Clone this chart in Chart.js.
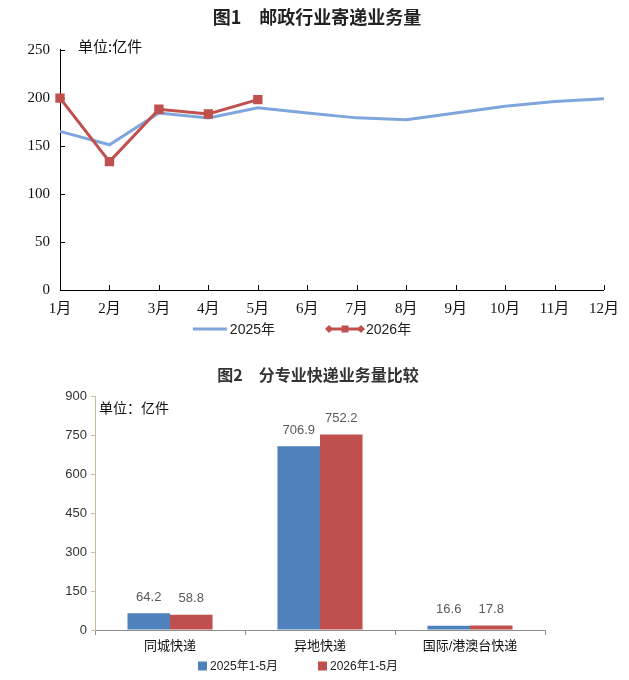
<!DOCTYPE html>
<html>
<head>
<meta charset="utf-8">
<script src="https://cdn.jsdelivr.net/npm/chart.js"></script>
<style>
  body { margin: 0; background: #fff; width: 629px; height: 680px; overflow: hidden; position: relative; }
  .box { position: absolute; left: 0; width: 629px; }
  #box1 { top: 0; height: 345px; }
  #box2 { top: 355px; height: 325px; }
</style>
</head>
<body>
<div class="box" id="box1"><canvas id="lineChart"></canvas></div>
<div class="box" id="box2"><canvas id="barChart"></canvas></div>
<script>
// 图1 data
const months = ['1月', '2月', '3月', '4月', '5月', '6月', '7月', '8月', '9月', '10月', '11月', '12月'];
const volume2025 = [165, 151, 184, 179, 189.5, 184, 179, 177, 184, 191, 196, 199];
const volume2026 = [199.5, 133.5, 188, 183, 198];
const lineTicks = [0, 50, 100, 150, 200, 250];

// 图2 data
const categories = ['同城快递', '异地快递', '国际/港澳台快递'];
const period2025 = [64.2, 706.9, 16.6];
const period2026 = [58.8, 752.2, 17.8];
const barTicks = [0, 150, 300, 450, 600, 750, 900];

const CJK = "'Noto Sans CJK SC'";
const SERIF = "'Liberation Serif', " + CJK;
const SANS = "'Liberation Sans', " + CJK;
const BLUE_LINE = '#7ea6dc';
const RED_LINE = '#c0504d';
const BLUE_BAR = '#4f81bd';
const RED_BAR = '#c0504d';

Chart.defaults.font.family = SANS;
Chart.defaults.color = '#222';

// the title block normally centres over the padded layout width; centre it where the picture has it
const titleCentre = {
  id: 'titleCentre',
  beforeDraw(chart, args, opts) {
    const t = chart.titleBlock;
    if (t) { t.left = 0; t.right = opts.cx * 2; }
  }
};

// small ticks pointing into the plot (top chart)
const innerTicks = {
  id: 'innerTicks',
  beforeDatasetsDraw(chart) {
    const { ctx, scales: { x, y }, chartArea: a } = chart;
    ctx.save();
    ctx.strokeStyle = '#000';
    ctx.lineWidth = 1;
    ctx.beginPath();
    x.ticks.forEach((t, i) => {
      const px = Math.round(x.getPixelForTick(i)) + 0.5;
      ctx.moveTo(px, a.bottom);
      ctx.lineTo(px, a.bottom - 5);
    });
    y.ticks.forEach((t, i) => {
      const py = Math.round(y.getPixelForTick(i)) + 0.5;
      ctx.moveTo(a.left, py);
      ctx.lineTo(a.left + 5, py);
    });
    ctx.stroke();
    ctx.restore();
  }
};

// hand-placed legend row
function drawLegend(ctx, items, cx, cy, gap, font) {
  ctx.save();
  ctx.font = font;
  ctx.textBaseline = 'middle';
  ctx.textAlign = 'left';
  let total = 0;
  items.forEach((it, i) => {
    it.tw = ctx.measureText(it.text).width;
    total += it.symW + it.pad + it.tw + (i ? gap : 0);
  });
  let x = cx - total / 2;
  items.forEach((it, i) => {
    if (i) x += gap;
    it.symbol(ctx, x, cy);
    x += it.symW + it.pad;
    ctx.fillStyle = '#222';
    ctx.fillText(it.text, x, cy + 1);
    x += it.tw;
  });
  ctx.restore();
}

const lineExtras = {
  id: 'lineExtras',
  afterDraw(chart) {
    const ctx = chart.ctx;
    const ds = chart.data.datasets;
    ctx.save();
    ctx.font = '15px ' + CJK;
    ctx.fillStyle = '#111';
    ctx.textBaseline = 'middle';
    ctx.fillText('单位:亿件', 78, 46);
    ctx.restore();
    drawLegend(ctx, [
      {
        text: ds[0].label, symW: 34, pad: 3,
        symbol(c, x, y) {
          c.strokeStyle = ds[0].borderColor; c.lineWidth = 3;
          c.beginPath(); c.moveTo(x, y); c.lineTo(x + 34, y); c.stroke();
        }
      },
      {
        text: ds[1].label, symW: 40, pad: 1,
        symbol(c, x, y) {
          c.strokeStyle = ds[1].borderColor; c.fillStyle = ds[1].borderColor; c.lineWidth = 3;
          c.beginPath(); c.moveTo(x + 3, y); c.lineTo(x + 37, y); c.stroke();
          [x + 4, x + 36].forEach(px => {
            c.beginPath();
            c.moveTo(px - 4, y); c.lineTo(px, y - 4); c.lineTo(px + 4, y); c.lineTo(px, y + 4);
            c.closePath(); c.fill();
          });
          c.fillRect(x + 16.5, y - 3.5, 7, 7);
        }
      }
    ], 302, 329, 50, '14px ' + SANS);
  }
};

new Chart(document.getElementById('lineChart'), {
  type: 'line',
  data: {
    labels: months,
    datasets: [
      {
        label: '2025年',
        data: volume2025,
        borderColor: BLUE_LINE,
        backgroundColor: BLUE_LINE,
        borderWidth: 3,
        pointRadius: 0,
        tension: 0,
        order: 2
      },
      {
        label: '2026年',
        data: volume2026,
        borderColor: RED_LINE,
        backgroundColor: RED_LINE,
        borderWidth: 3,
        pointStyle: 'rect',
        pointRadius: 4.5,
        tension: 0,
        order: 1
      }
    ]
  },
  options: {
    responsive: true,
    maintainAspectRatio: false,
    animation: false,
    layout: { padding: { left: 0, right: 22, top: 0, bottom: 10 } },
    plugins: {
      legend: { display: false },
      tooltip: { enabled: false },
      titleCentre: { cx: 317 },
      title: {
        display: true,
        text: '图1　邮政行业寄递业务量',
        color: '#222',
        font: { size: 18, weight: 'bold', family: CJK },
        padding: { top: 6, bottom: 22 }
      }
    },
    scales: {
      x: {
        offset: false,
        grid: { display: false, drawTicks: false },
        border: { color: '#000', width: 1 },
        ticks: { autoSkip: false, maxRotation: 0, padding: 10, color: '#111', font: { size: 15, family: SERIF } },
        afterFit(s) { s.height = 45; }
      },
      y: {
        min: 0,
        max: 250,
        afterBuildTicks(s) { s.ticks = lineTicks.map(v => ({ value: v })); },
        grid: { display: false, drawTicks: false },
        border: { color: '#000', width: 1 },
        ticks: { padding: 10, color: '#111', font: { size: 15, family: SERIF } },
        afterFit(s) { s.width = 60; }
      }
    }
  },
  plugins: [titleCentre, innerTicks, lineExtras]
});

const barExtras = {
  id: 'barExtras',
  afterDatasetsDraw(chart) {
    const ctx = chart.ctx;
    ctx.save();
    ctx.font = '13px ' + SANS;
    ctx.fillStyle = '#595959';
    ctx.textAlign = 'center';
    ctx.textBaseline = 'middle';
    chart.data.datasets.forEach((ds, di) => {
      chart.getDatasetMeta(di).data.forEach((bar, i) => {
        ctx.fillText(ds.data[i].toFixed(1), bar.x, bar.y - 16);
      });
    });
    ctx.restore();
  },
  afterDraw(chart) {
    const ctx = chart.ctx;
    const ds = chart.data.datasets;
    ctx.save();
    ctx.font = '14px ' + CJK;
    ctx.fillStyle = '#111';
    ctx.textBaseline = 'middle';
    ctx.fillText('单位：亿件', 99, 53);
    ctx.restore();
    const square = color => (c, x, y) => { c.fillStyle = color; c.fillRect(x, y - 4.5, 9, 9); };
    drawLegend(ctx, [
      { text: ds[0].label, symW: 9, pad: 3, symbol: square(ds[0].backgroundColor) },
      { text: ds[1].label, symW: 9, pad: 3, symbol: square(ds[1].backgroundColor) }
    ], 298, 311, 40, '12px ' + SANS);
  }
};

new Chart(document.getElementById('barChart'), {
  type: 'bar',
  data: {
    labels: categories,
    datasets: [
      { label: '2025年1-5月', data: period2025, backgroundColor: BLUE_BAR, categoryPercentage: 0.567, barPercentage: 1 },
      { label: '2026年1-5月', data: period2026, backgroundColor: RED_BAR, categoryPercentage: 0.567, barPercentage: 1 }
    ]
  },
  options: {
    responsive: true,
    maintainAspectRatio: false,
    animation: false,
    layout: { padding: { left: 0, right: 84, top: 0, bottom: 15 } },
    plugins: {
      legend: { display: false },
      tooltip: { enabled: false },
      titleCentre: { cx: 318 },
      title: {
        display: true,
        text: '图2　分专业快递业务量比较',
        color: '#333',
        font: { size: 16, weight: 'bold', family: CJK },
        padding: { top: 10, bottom: 12 }
      }
    },
    scales: {
      x: {
        grid: { drawOnChartArea: false, color: '#8c8c8c', tickLength: 5 },
        border: { color: '#8c8c8c', width: 1 },
        ticks: { padding: 4, color: '#111', font: { size: 13, family: SANS } },
        afterFit(s) { s.height = 35; }
      },
      y: {
        min: 0,
        max: 900,
        afterBuildTicks(s) { s.ticks = barTicks.map(v => ({ value: v })); },
        grid: { drawOnChartArea: false, color: '#c8bc9e', tickLength: 4 },
        border: { color: '#c8bc9e', width: 1 },
        ticks: { padding: 4, color: '#333', font: { size: 13, family: SANS } },
        afterFit(s) { s.width = 95; }
      }
    }
  },
  plugins: [titleCentre, barExtras]
});
</script>
</body>
</html>
